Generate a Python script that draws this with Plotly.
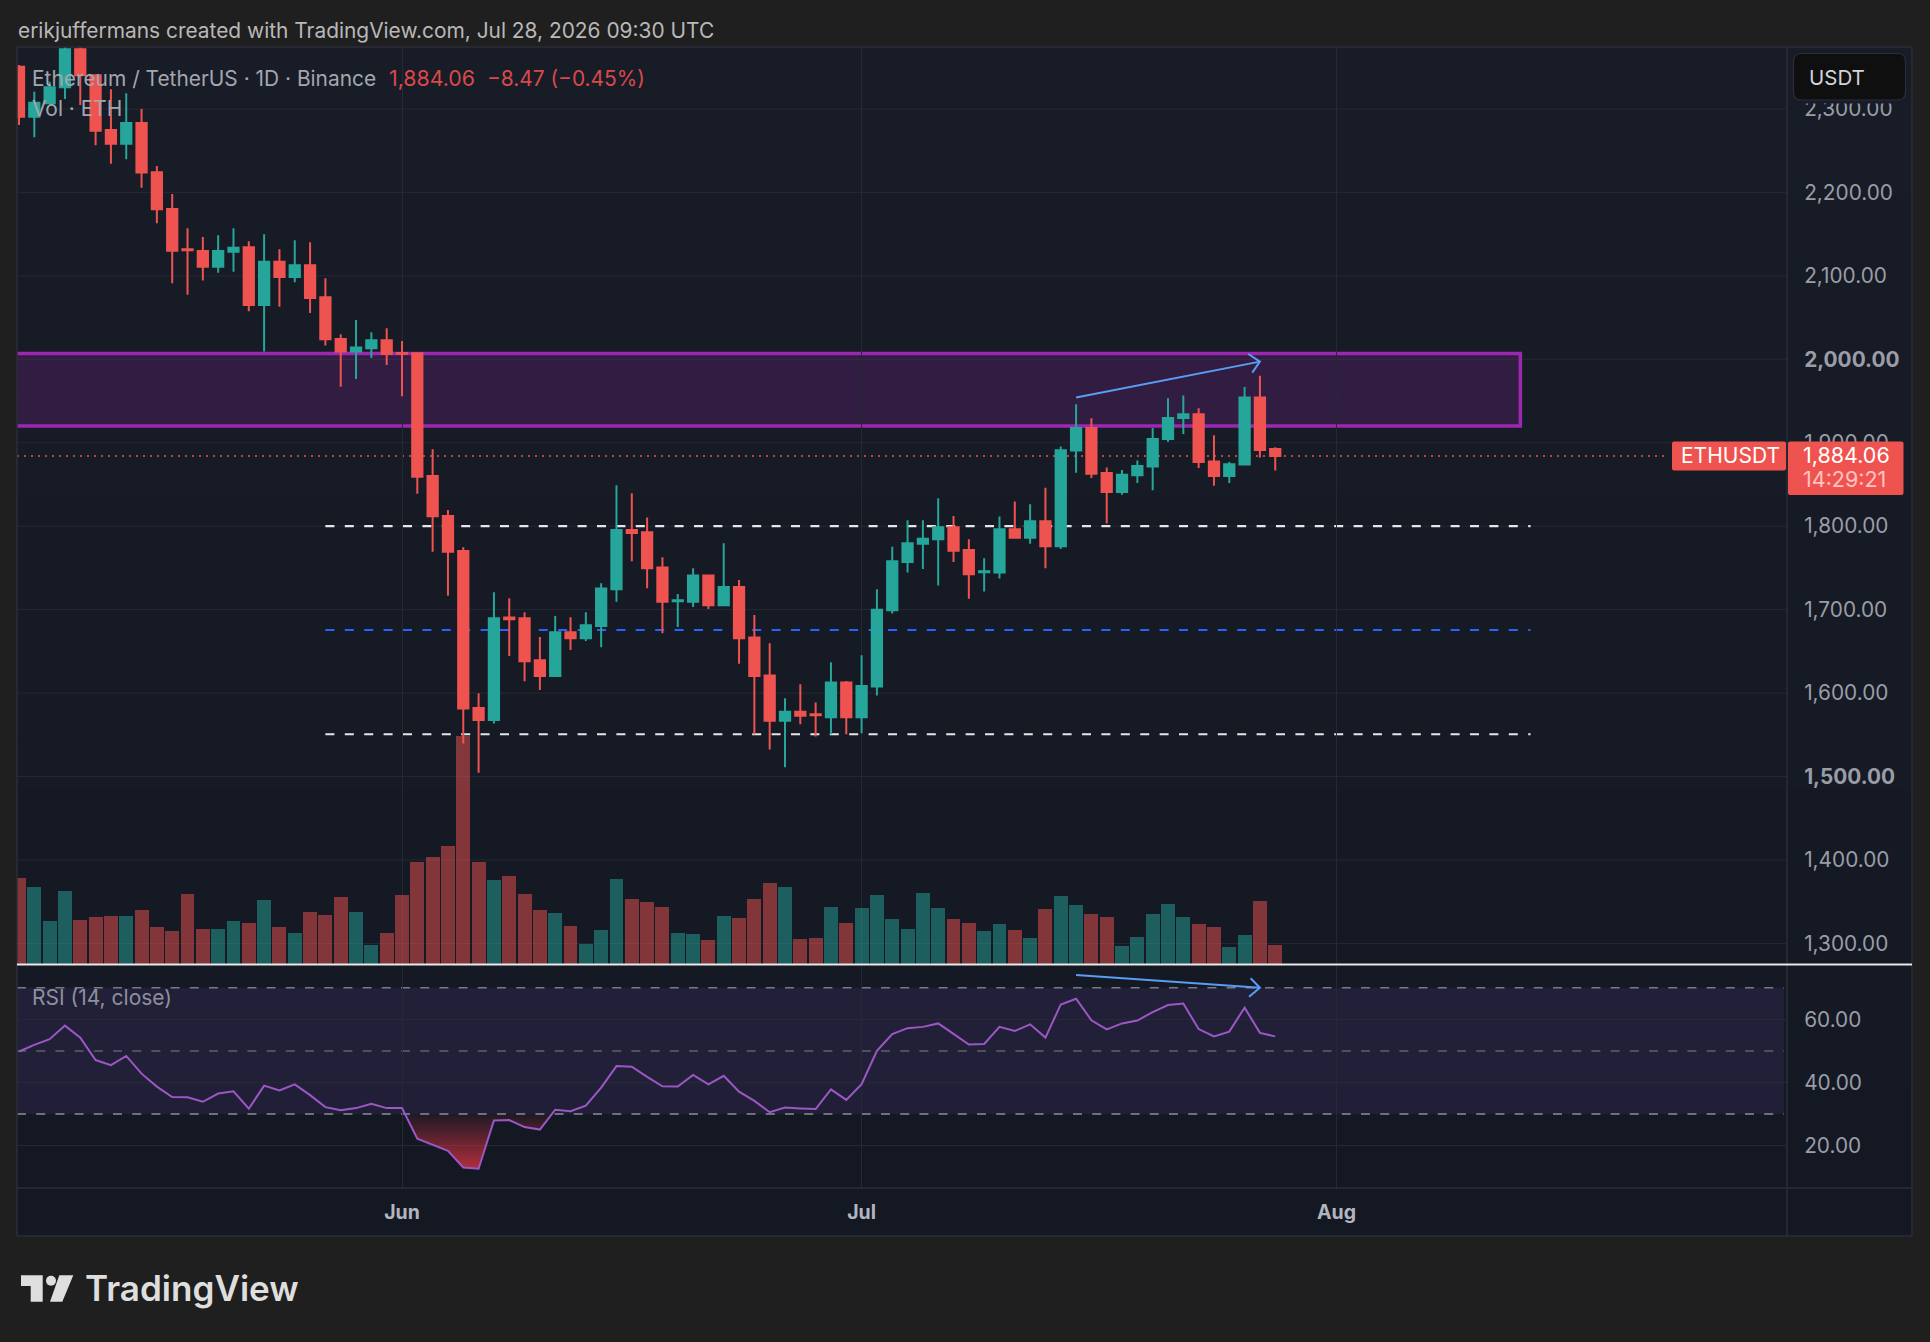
import pandas as pd
import plotly.graph_objects as go

# --- Daily ETH/USDT candles, 7 May to 28 Jul 2026 ---
first_day = "2026-05-07"
opens = [2350.7, 2290.8, 2306.7, 2325.9, 2371.4, 2340.3, 2274.8, 2258.4, 2283.2, 2224.0, 2180.0, 2131.8, 2129.8, 2111.0,
         2129.0, 2134.2, 2065.1, 2117.0, 2098.7, 2112.6, 2074.3, 2024.4, 2009.2, 2013.2, 2022.8, 2007.6, 2007.2, 1860.2,
         1812.3, 1770.3, 1582.2, 1567.8, 1690.5, 1689.7, 1639.3, 1620.6, 1672.9, 1665.7, 1680.5, 1724.4, 1795.5, 1792.7,
         1750.4, 1710.0, 1709.6, 1740.8, 1705.2, 1727.2, 1666.5, 1621.0, 1567.0, 1577.8, 1574.6, 1571.0, 1612.6, 1571.0,
         1607.8, 1699.2, 1757.2, 1779.1, 1784.3, 1798.7, 1771.5, 1744.8, 1744.4, 1796.3, 1786.3, 1805.9, 1776.0, 1890.6,
         1917.7, 1863.8, 1841.0, 1861.0, 1871.4, 1904.5, 1929.7, 1934.1, 1877.4, 1860.2, 1873.8, 1954.1, 1892.53]
highs = [2352.7, 2320.7, 2332.7, 2385.0, 2385.0, 2340.3, 2323.5, 2318.7, 2300.0, 2231.7, 2198.1, 2157.0, 2146.6, 2148.6,
         2157.0, 2141.4, 2149.8, 2131.8, 2142.6, 2140.2, 2097.0, 2030.0, 2047.1, 2032.4, 2037.1, 2022.0, 2007.2, 1892.2,
         1819.5, 1774.7, 1599.8, 1720.8, 1713.6, 1696.9, 1667.3, 1692.5, 1690.9, 1696.9, 1731.6, 1849.0, 1839.4, 1810.3,
         1762.8, 1718.8, 1749.6, 1740.8, 1779.5, 1735.6, 1693.7, 1659.7, 1593.8, 1610.6, 1588.6, 1637.0, 1614.6, 1645.3,
         1724.4, 1775.5, 1807.1, 1807.1, 1833.5, 1812.3, 1784.3, 1761.6, 1811.5, 1829.5, 1826.3, 1846.2, 1895.4, 1946.1,
         1929.3, 1870.2, 1867.4, 1878.6, 1917.7, 1953.3, 1956.5, 1941.3, 1909.0, 1877.0, 1966.8, 1980.4, 1894.6]
lows = [2280.8, 2266.0, 2306.0, 2311.9, 2304.7, 2256.4, 2234.4, 2239.6, 2205.7, 2163.0, 2091.0, 2077.5, 2094.3, 2103.8,
        2105.0, 2057.5, 2009.2, 2063.1, 2092.3, 2055.5, 2016.4, 1967.2, 1976.4, 2001.6, 1993.2, 1955.7, 1839.0, 1769.5,
        1716.8, 1539.5, 1504.7, 1563.5, 1644.5, 1614.2, 1603.8, 1620.6, 1651.7, 1662.5, 1654.9, 1709.6, 1758.0, 1725.6,
        1671.7, 1679.3, 1703.2, 1700.8, 1705.2, 1635.3, 1550.7, 1532.3, 1511.1, 1562.7, 1547.9, 1550.7, 1550.7, 1552.0,
        1597.0, 1695.3, 1744.4, 1748.8, 1728.8, 1757.2, 1713.2, 1721.6, 1737.2, 1786.3, 1779.1, 1749.6, 1772.7, 1864.2,
        1857.8, 1803.1, 1837.8, 1851.8, 1843.0, 1901.3, 1910.5, 1869.8, 1848.6, 1851.8, 1873.8, 1882.2, 1866.6]
closes = [2290.8, 2307.5, 2325.9, 2371.4, 2340.3, 2274.0, 2258.4, 2283.2, 2223.7, 2179.7, 2130.2, 2130.6, 2111.0, 2129.8,
          2133.8, 2065.1, 2117.0, 2098.7, 2112.6, 2073.5, 2024.0, 2009.2, 2014.0, 2022.8, 2006.4, 2006.8, 1859.4, 1811.9,
          1769.5, 1581.4, 1567.8, 1689.7, 1688.5, 1638.1, 1620.6, 1672.9, 1665.7, 1681.3, 1725.2, 1795.5, 1791.9, 1749.6,
          1709.6, 1711.2, 1740.8, 1705.2, 1727.2, 1665.7, 1620.6, 1567.0, 1577.8, 1573.0, 1573.4, 1612.6, 1571.0, 1608.6,
          1700.0, 1758.0, 1779.5, 1785.1, 1798.7, 1770.7, 1742.4, 1746.0, 1796.3, 1786.3, 1805.9, 1776.0, 1891.0, 1917.7,
          1863.0, 1841.0, 1861.8, 1872.2, 1904.5, 1929.7, 1934.1, 1877.0, 1860.2, 1874.2, 1954.1, 1891.4, 1884.06]
volumes = [258, 232, 130, 220, 132, 140, 143, 143, 161, 112, 98, 211, 106, 106, 130, 124, 192, 112, 93, 156, 148, 201, 156,
           56, 93, 206, 307, 322, 355, 685, 306, 253, 264, 211, 161, 153, 114, 61, 101, 255, 195, 185, 172, 93, 90, 72, 145,
           138, 196, 243, 232, 75, 79, 172, 124, 169, 206, 135, 106, 213, 169, 135, 124, 98, 119, 101, 79, 164, 203, 177,
           150, 140, 53, 82, 150, 180, 140, 121, 111, 51, 88, 190, 56]
rsi_values = [49.8, 51.9, 53.7, 58.0, 54.2, 47.1, 45.5, 48.4, 42.8, 38.7, 35.4, 35.3, 33.9, 36.5, 37.2, 31.7, 39.0, 37.5, 39.4,
              36.0, 32.2, 31.2, 31.9, 33.3, 31.9, 31.9, 22.2, 20.2, 18.4, 13.1, 12.7, 28.0, 28.1, 25.9, 25.1, 31.4, 30.9, 32.7,
              38.4, 45.2, 45.0, 41.8, 38.8, 38.7, 42.4, 39.4, 42.1, 37.1, 34.2, 30.6, 32.1, 31.8, 31.6, 37.8, 34.5, 39.5, 50.0,
              55.3, 57.2, 57.6, 58.7, 55.4, 52.0, 52.2, 57.6, 56.3, 58.4, 54.2, 64.7, 66.5, 59.7, 56.8, 58.7, 59.6, 62.3, 64.5,
              65.0, 56.9, 54.6, 56.1, 63.7, 55.7, 54.6]

# Axis ticks
price_ticks = [1300, 1400, 1500, 1600, 1700, 1800, 1900, 2000, 2100, 2200, 2300]
bold_price_ticks = [1500, 2000]
rsi_ticks = [20, 40, 60]
month_ticks = ["2026-06-01", "2026-07-01", "2026-08-01"]
month_labels = ["Jun", "Jul", "Aug"]

# Drawings on the price pane
zone_prices = [1920.0, 2007.0]
zone_dates = ["2026-05-01", "2026-08-13"]
level_dates = ["2026-05-27", "2026-08-13 16:00"]
white_levels = [1800.0, 1550.7]
blue_level = 1675.7
last_price = 1884.06
price_arrow_dates = ["2026-07-15", "2026-07-27"]
price_arrow_prices = [1954.1, 1997.2]
price_head_dates = ["2026-07-26 05:45", "2026-07-27", "2026-07-26 12:00"]
price_head_prices = [2006.4, 1997.2, 1984.0]
rsi_arrow_dates = ["2026-07-15", "2026-07-27"]
rsi_arrow_values = [74.0, 70.0]
rsi_head_dates = ["2026-07-26 09:30", "2026-07-27", "2026-07-26 07:00"]
rsi_head_values = [73.0, 70.0, 67.1]

# Page geometry, in pixels of the 1930x1342 page
W, H = 1930, 1342
LEFT, AXIS_X, RIGHT = 17, 1787, 1912
TOP, MAIN_BOTTOM, RSI_TOP, RSI_BOTTOM, BOTTOM = 47, 964, 966, 1188, 1236


def xp(x):
    return (x - LEFT) / (AXIS_X - LEFT)


def yp(y):
    return 1 - (y - TOP) / (RSI_BOTTOM - TOP)


dates = pd.date_range(first_day, periods=len(closes), freq="D")
UP, DOWN = "#26a69a", "#ef5350"
UP_VOL, DOWN_VOL = "rgba(38,166,154,0.5)", "rgba(239,83,80,0.5)"
GRID = "#252934"
BORDER = "#2a2e39"
ARROW = "#5b9cf6"
FONT = "Inter"
shapes = []
annotations = []


def paper_rect(x0, y0, x1, y1, fill, line=None, width=0, layer="above"):
    shapes.append(dict(type="rect", xref="paper", yref="paper", x0=xp(x0), x1=xp(x1), y0=yp(y0), y1=yp(y1),
                       fillcolor=fill, line=dict(color=line or "rgba(0,0,0,0)", width=width), layer=layer))


def paper_line(x0, y0, x1, y1, color, width=1, layer="above"):
    shapes.append(dict(type="line", xref="paper", yref="paper", x0=xp(x0), x1=xp(x1), y0=yp(y0), y1=yp(y1),
                       line=dict(color=color, width=width), layer=layer))


def label(x, y, text, color, size, weight=400, anchor="left"):
    annotations.append(dict(xref="paper", yref="paper", x=xp(x), y=yp(y), text=text, showarrow=False, xanchor=anchor,
                            yanchor="middle", borderpad=0, borderwidth=0,
                            font=dict(family=FONT, size=size, color=color, weight=weight)))


def round_path(x0, y0, x1, y1, r):
    # rounded rectangle expressed in paper units
    rx, ry = r / (AXIS_X - LEFT), r / (RSI_BOTTOM - TOP)
    a, b, c, d = xp(x0), xp(x1), yp(y0), yp(y1)
    return (f"M{a + rx},{c} L{b - rx},{c} Q{b},{c} {b},{c - ry} L{b},{d + ry} Q{b},{d} {b - rx},{d} "
            f"L{a + rx},{d} Q{a},{d} {a},{d + ry} L{a},{c - ry} Q{a},{c} {a + rx},{c} Z")


# Chart background fades slightly darker towards the time axis
BANDS = 24
top_rgb, bottom_rgb = (24, 28, 39), (19, 24, 35)
for k in range(BANDS):
    t = k / (BANDS - 1)
    rgb = [round(a + (b - a) * t) for a, b in zip(top_rgb, bottom_rgb)]
    y0 = TOP + (BOTTOM - TOP) * k / BANDS
    y1 = TOP + (BOTTOM - TOP) * (k + 1) / BANDS + 1
    paper_rect(LEFT, y0, RIGHT, min(y1, BOTTOM), f"rgb({rgb[0]},{rgb[1]},{rgb[2]})", layer="below")

# Price gridlines go under the drawings, so the 1,800 dashes stay bright
for tick in price_ticks:
    shapes.append(dict(type="line", xref="paper", yref="y3", x0=0, x1=1, y0=tick, y1=tick,
                       line=dict(color=GRID, width=1), layer="below"))

# Price-pane drawings sit under the candles
shapes.append(dict(type="rect", xref="x", yref="y3", x0=zone_dates[0], x1=zone_dates[1], y0=zone_prices[0], y1=zone_prices[1],
                   fillcolor="rgba(156,39,176,0.2)", line=dict(color="#9c27b0", width=3.5), layer="below"))
for level in white_levels:
    shapes.append(dict(type="line", xref="x", yref="y3", x0=level_dates[0], x1=level_dates[1], y0=level, y1=level,
                       line=dict(color="#e6e6e6", width=2.2, dash="9px,10.4px"), layer="below"))
shapes.append(dict(type="line", xref="x", yref="y3", x0=level_dates[0], x1=level_dates[1], y0=blue_level, y1=blue_level,
                   line=dict(color="#2962ff", width=2, dash="9px,10.4px"), layer="below"))
shapes.append(dict(type="line", xref="paper", yref="y3", x0=0, x1=xp(1668), y0=last_price, y1=last_price,
                   line=dict(color=DOWN, width=1.5, dash="2px,5px"), layer="below"))

# RSI band and its 70 / 50 / 30 guides
shapes.append(dict(type="rect", xref="paper", yref="y2", x0=0, x1=xp(1784), y0=30, y1=70,
                   fillcolor="rgba(126,87,194,0.13)", line=dict(width=0), layer="below"))
for level, color in [(70, "#787b86"), (50, "#5d606b"), (30, "#8a8d97")]:
    shapes.append(dict(type="line", xref="paper", yref="y2", x0=0, x1=xp(1784), y0=level, y1=level,
                       line=dict(color=color, width=1.5, dash="9px,10.2px"), layer="below"))

# Pane frames and separators
paper_line(LEFT, TOP, RIGHT, TOP, BORDER, 1.5)
paper_line(LEFT, TOP, LEFT, BOTTOM, BORDER, 1.5)
paper_line(RIGHT, TOP, RIGHT, BOTTOM, BORDER, 1.5)
paper_line(LEFT, BOTTOM, RIGHT, BOTTOM, BORDER, 1.5)
paper_line(LEFT, RSI_BOTTOM, RIGHT, RSI_BOTTOM, BORDER, 1.5)
paper_line(AXIS_X, TOP, AXIS_X, BOTTOM, BORDER, 1.5)
paper_line(LEFT, 964.5, RIGHT, 964.5, "#e8e8e8", 2)

# Currency box; the axis labels stop just short of it
paper_rect(AXIS_X + 1, 100, RIGHT - 1, 103.5, "rgb(24,28,39)")
shapes.append(dict(type="path", xref="paper", yref="paper", path=round_path(1793.5, 53.5, 1905.5, 100, 8),
                   fillcolor="#0f0f0f", line=dict(color=BORDER, width=1.2), layer="above"))

# Last-price tags
shapes.append(dict(type="path", xref="paper", yref="paper", path=round_path(1672, 441.5, 1786, 470.5, 2),
                   fillcolor=DOWN, line=dict(width=0), layer="above"))
shapes.append(dict(type="path", xref="paper", yref="paper", path=round_path(1788, 441.5, 1903.5, 495, 2),
                   fillcolor=DOWN, line=dict(width=0), layer="above"))

# Logo mark
LOGO = [[(21, 1275.3), (42.7, 1275.3), (42.7, 1301.7), (30.7, 1301.7), (30.7, 1286), (21, 1286)],
        [(59.3, 1275.3), (73.3, 1275.3), (62.3, 1301.7), (50, 1301.7)]]
for poly in LOGO:
    path = "M" + " L".join(f"{xp(x)},{yp(y)}" for x, y in poly) + " Z"
    shapes.append(dict(type="path", xref="paper", yref="paper", path=path, fillcolor="#dedede", line=dict(width=0), layer="above"))
shapes.append(dict(type="circle", xref="paper", yref="paper", x0=xp(46), x1=xp(56), y0=yp(1285.7), y1=yp(1275.7),
                   fillcolor="#dedede", line=dict(width=0), layer="above"))

# Text
label(18, 31, "erikjuffermans created with TradingView.com, Jul 28, 2026 09:30 UTC", "#b8b8b8", 20.9)
label(32, 78.5, "Ethereum / TetherUS · 1D · Binance", "#a3a6af", 20.9)
label(389, 78.5, "1,884.06", "#d9494a", 21.3)
label(487, 78.5, "−8.47 (−0.45%)", "#d9494a", 20.9)
label(32, 108.5, "Vol · ETH", "#a3a6af", 20.9)
label(32, 997, "RSI (14, close)", "#8e919b", 21)
label(1809, 78, "USDT", "#d1d4dc", 20.5)
label(1681, 456, "ETHUSDT", "#ffffff", 21)
label(1803, 455, "1,884.06", "#ffffff", 21.5)
label(1803, 479, "14:29:21", "#ffc4c1", 21.5)
label(85, 1288, "TradingView", "#dedede", 35.1, 600)

# Below-30 part of the RSI, closed along the 30 line for the red shading
oversold_x, oversold_y = [], []
for i in range(len(rsi_values) - 1):
    a, b = rsi_values[i], rsi_values[i + 1]
    if a < 30:
        oversold_x.append(dates[i])
        oversold_y.append(a)
    if (a - 30) * (b - 30) < 0:
        oversold_x.append(dates[i] + pd.Timedelta(days=1) * ((30 - a) / (b - a)))
        oversold_y.append(30)

fig = go.Figure()
fig.add_trace(go.Bar(x=dates, y=volumes, xaxis="x", yaxis="y",
                     marker=dict(color=[UP_VOL if c >= o else DOWN_VOL for o, c in zip(opens, closes)], line=dict(width=0)),
                     width=0.91 * 86400000))
fig.add_trace(go.Candlestick(x=dates, open=opens, high=highs, low=lows, close=closes, xaxis="x", yaxis="y3",
                             increasing=dict(line=dict(color=UP, width=2), fillcolor=UP),
                             decreasing=dict(line=dict(color=DOWN, width=2), fillcolor=DOWN),
                             whiskerwidth=0))
line_style = dict(color=ARROW, width=2)
fig.add_trace(go.Scatter(x=price_arrow_dates, y=price_arrow_prices, mode="lines", line=line_style, xaxis="x", yaxis="y3"))
fig.add_trace(go.Scatter(x=price_head_dates, y=price_head_prices, mode="lines", line=line_style, xaxis="x", yaxis="y3"))
fig.add_trace(go.Scatter(x=oversold_x, y=oversold_y, mode="lines", line=dict(width=0), fill="toself", xaxis="x", yaxis="y2",
                         fillgradient=dict(type="vertical", start=30, stop=13,
                                           colorscale=[[0, "rgba(242,54,69,0.05)"], [1, "rgba(242,54,69,0.7)"]])))
fig.add_trace(go.Scatter(x=dates, y=rsi_values, mode="lines", line=dict(color="#9c57c4", width=2), xaxis="x", yaxis="y2"))
fig.add_trace(go.Scatter(x=rsi_arrow_dates, y=rsi_arrow_values, mode="lines", line=line_style, xaxis="x", yaxis="y2"))
fig.add_trace(go.Scatter(x=rsi_head_dates, y=rsi_head_values, mode="lines", line=line_style, xaxis="x", yaxis="y2"))

tick_font = dict(family=FONT, size=20.8, color="#9a9da7")
price_text = [f"<b>{v:,.2f}</b>" if v in bold_price_ticks else f"{v:,.2f}" for v in price_ticks]
plot_height = RSI_BOTTOM - TOP
main_domain = [(RSI_BOTTOM - MAIN_BOTTOM) / plot_height, 1]
rsi_domain = [0, (RSI_BOTTOM - RSI_TOP) / plot_height]
day_px = 15.32
x_start = pd.Timestamp("2026-06-01") - pd.Timedelta(days=(402 - LEFT) / day_px)
x_stop = pd.Timestamp("2026-06-01") + pd.Timedelta(days=(AXIS_X - 402) / day_px)

fig.update_layout(
    width=W, height=H, autosize=False, showlegend=False, hovermode=False,
    paper_bgcolor="#1f1f1f", plot_bgcolor="rgba(0,0,0,0)",
    margin=dict(l=LEFT, r=W - AXIS_X, t=TOP, b=H - RSI_BOTTOM, pad=0),
    boxgap=0.0, boxgroupgap=0.33, bargap=0, barmode="overlay",
    shapes=shapes, annotations=annotations,
    xaxis=dict(type="date", range=[x_start, x_stop], anchor="y2", rangeslider=dict(visible=False),
               tickmode="array", tickvals=month_ticks, ticktext=[f"<b>{m}</b>" for m in month_labels],
               showgrid=True, gridcolor=GRID, gridwidth=1, zeroline=False, showline=False,
               ticks="outside", ticklen=7, tickcolor="rgba(0,0,0,0)",
               tickfont=dict(family=FONT, size=19.5, color="#b2b5be")),
    yaxis=dict(domain=main_domain, range=[0, 2751], visible=False, fixedrange=True),
    yaxis3=dict(domain=main_domain, overlaying="y", side="right", anchor="x",
                range=[2000 - (MAIN_BOTTOM - 359.3) / 0.8345, 2000 + (359.3 - TOP) / 0.8345],
                tickmode="array", tickvals=price_ticks, ticktext=price_text,
                showgrid=False, zeroline=False, showline=False,
                ticks="outside", ticklen=12, tickcolor="rgba(0,0,0,0)", tickfont=tick_font),
    yaxis2=dict(domain=rsi_domain, side="right", anchor="x",
                range=[20 - (RSI_BOTTOM - 1145.7) / 3.16, 60 + (1019.3 - RSI_TOP) / 3.16],
                tickmode="array", tickvals=rsi_ticks, ticktext=[f"{v:.2f}" for v in rsi_ticks],
                showgrid=True, gridcolor=GRID, gridwidth=1, zeroline=False, showline=False,
                ticks="outside", ticklen=12, tickcolor="rgba(0,0,0,0)", tickfont=tick_font),
)

fig.write_html("out.html")
